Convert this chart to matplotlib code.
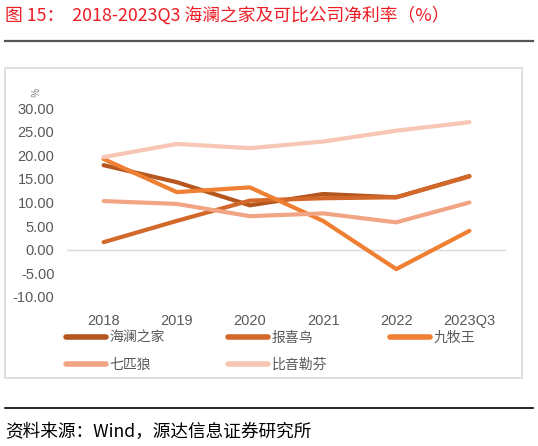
import matplotlib
matplotlib.use("Agg")
import matplotlib.pyplot as plt
from matplotlib.ticker import FuncFormatter, FixedLocator
from matplotlib.patches import Rectangle
from matplotlib.lines import Line2D

categories = ["2018", "2019", "2020", "2021", "2022", "2023Q3"]
series_names = ["海澜之家", "报喜鸟", "九牧王", "七匹狼", "比音勒芬"]
hailan = [17.9, 14.3, 9.4, 11.8, 11.1, 15.6]
baoxiniao = [1.6, 6.1, 10.4, 10.9, 11.1, 15.5]
jiumuwang = [19.2, 12.2, 13.2, 6.1, -4.1, 4.0]
qipilang = [10.3, 9.7, 7.1, 7.7, 5.8, 10.0]
biyinlefen = [19.6, 22.4, 21.5, 22.9, 25.2, 27.0]
y_ticks = [-10, -5, 0, 5, 10, 15, 20, 25, 30]

colors = ["#B4561E", "#D2692A", "#EE7F33", "#F2A585", "#F8C6B4"]

W, H = 538, 446
fig = plt.figure(figsize=(W / 100, H / 100), dpi=100)
plt.rcParams['font.family'] = ['Liberation Sans', 'Noto Sans CJK SC', 'DejaVu Sans']
cjk = ['Noto Sans CJK SC', 'DejaVu Sans']

def fx(px):
    return px / W

def fy(py):
    return 1 - py / H

# title
fig.text(fx(5), fy(15), "图 15：  2018-2023Q3 海澜之家及可比公司净利率（%）",
         color="#EE1C25", fontsize=12.8, family=cjk, va="center", ha="left")
fig.add_artist(Line2D([fx(5), fx(533)], [fy(40.5), fy(40.5)], color="#555555", lw=1.6))

# chart box
fig.add_artist(Rectangle((fx(5), fy(378)), fx(522) - fx(5), fy(68) - fy(378),
                         fill=False, edgecolor="#D9D9D9", lw=1.2))

# bottom line and source
fig.add_artist(Line2D([fx(5), fx(533)], [fy(408), fy(408)], color="#000000", lw=1.2))
fig.text(fx(5), fy(432), "资料来源：Wind，源达信息证券研究所",
         color="#000000", fontsize=12.7, family=cjk, va="center", ha="left")

ax = fig.add_axes([fx(67), fy(297), fx(506) - fx(67), fy(108) - fy(297)])
x = list(range(len(categories)))
all_series = [hailan, baoxiniao, jiumuwang, qipilang, biyinlefen]
order = [4, 3, 1, 0, 2]
lines = {}
for i in order:
    ln, = ax.plot(x, all_series[i], color=colors[i], lw=3.0,
                  solid_capstyle="round", solid_joinstyle="round",
                  label=series_names[i], zorder=3 + i * 0.1)
    lines[i] = ln

ax.axhline(0, color="#D9D9D9", lw=1.0, zorder=1)
ax.set_xlim(-0.5, len(categories) - 0.5)
ax.set_ylim(y_ticks[0], y_ticks[-1])
ax.yaxis.set_major_locator(FixedLocator(y_ticks))
ax.yaxis.set_major_formatter(FuncFormatter(lambda v, p: f"{v:.2f}"))
ax.set_xticks(x)
ax.set_xticklabels(categories)
for s in ax.spines.values():
    s.set_visible(False)
ax.tick_params(axis="both", length=0, colors="#595959", labelsize=10.5)
ax.tick_params(axis="y", pad=9)
ax.tick_params(axis="x", pad=12)
ax.patch.set_alpha(0)

fig.text(fx(33), fy(92), "%", rotation=270, color="#808080", fontsize=7,
         ha="center", va="center")

# column-major fill so rows read: 海澜之家 报喜鸟 九牧王 / 七匹狼 比音勒芬
leg_order = [0, 3, 1, 4, 2]
handles = [lines[i] for i in leg_order]
labels = [series_names[i] for i in leg_order]
leg = fig.legend(handles, labels, ncol=3, loc="upper left",
                 bbox_to_anchor=(fx(66), fy(331)), frameon=False,
                 prop={'family': cjk, 'size': 10}, labelcolor="#595959",
                 handlelength=2.9, handletextpad=0.25, columnspacing=4.5,
                 labelspacing=0.9, borderpad=0, borderaxespad=0)
for lh in leg.get_lines():
    lh.set_linewidth(4.0)
    lh.set_solid_capstyle("round")

fig.savefig("out.png", dpi=100)
